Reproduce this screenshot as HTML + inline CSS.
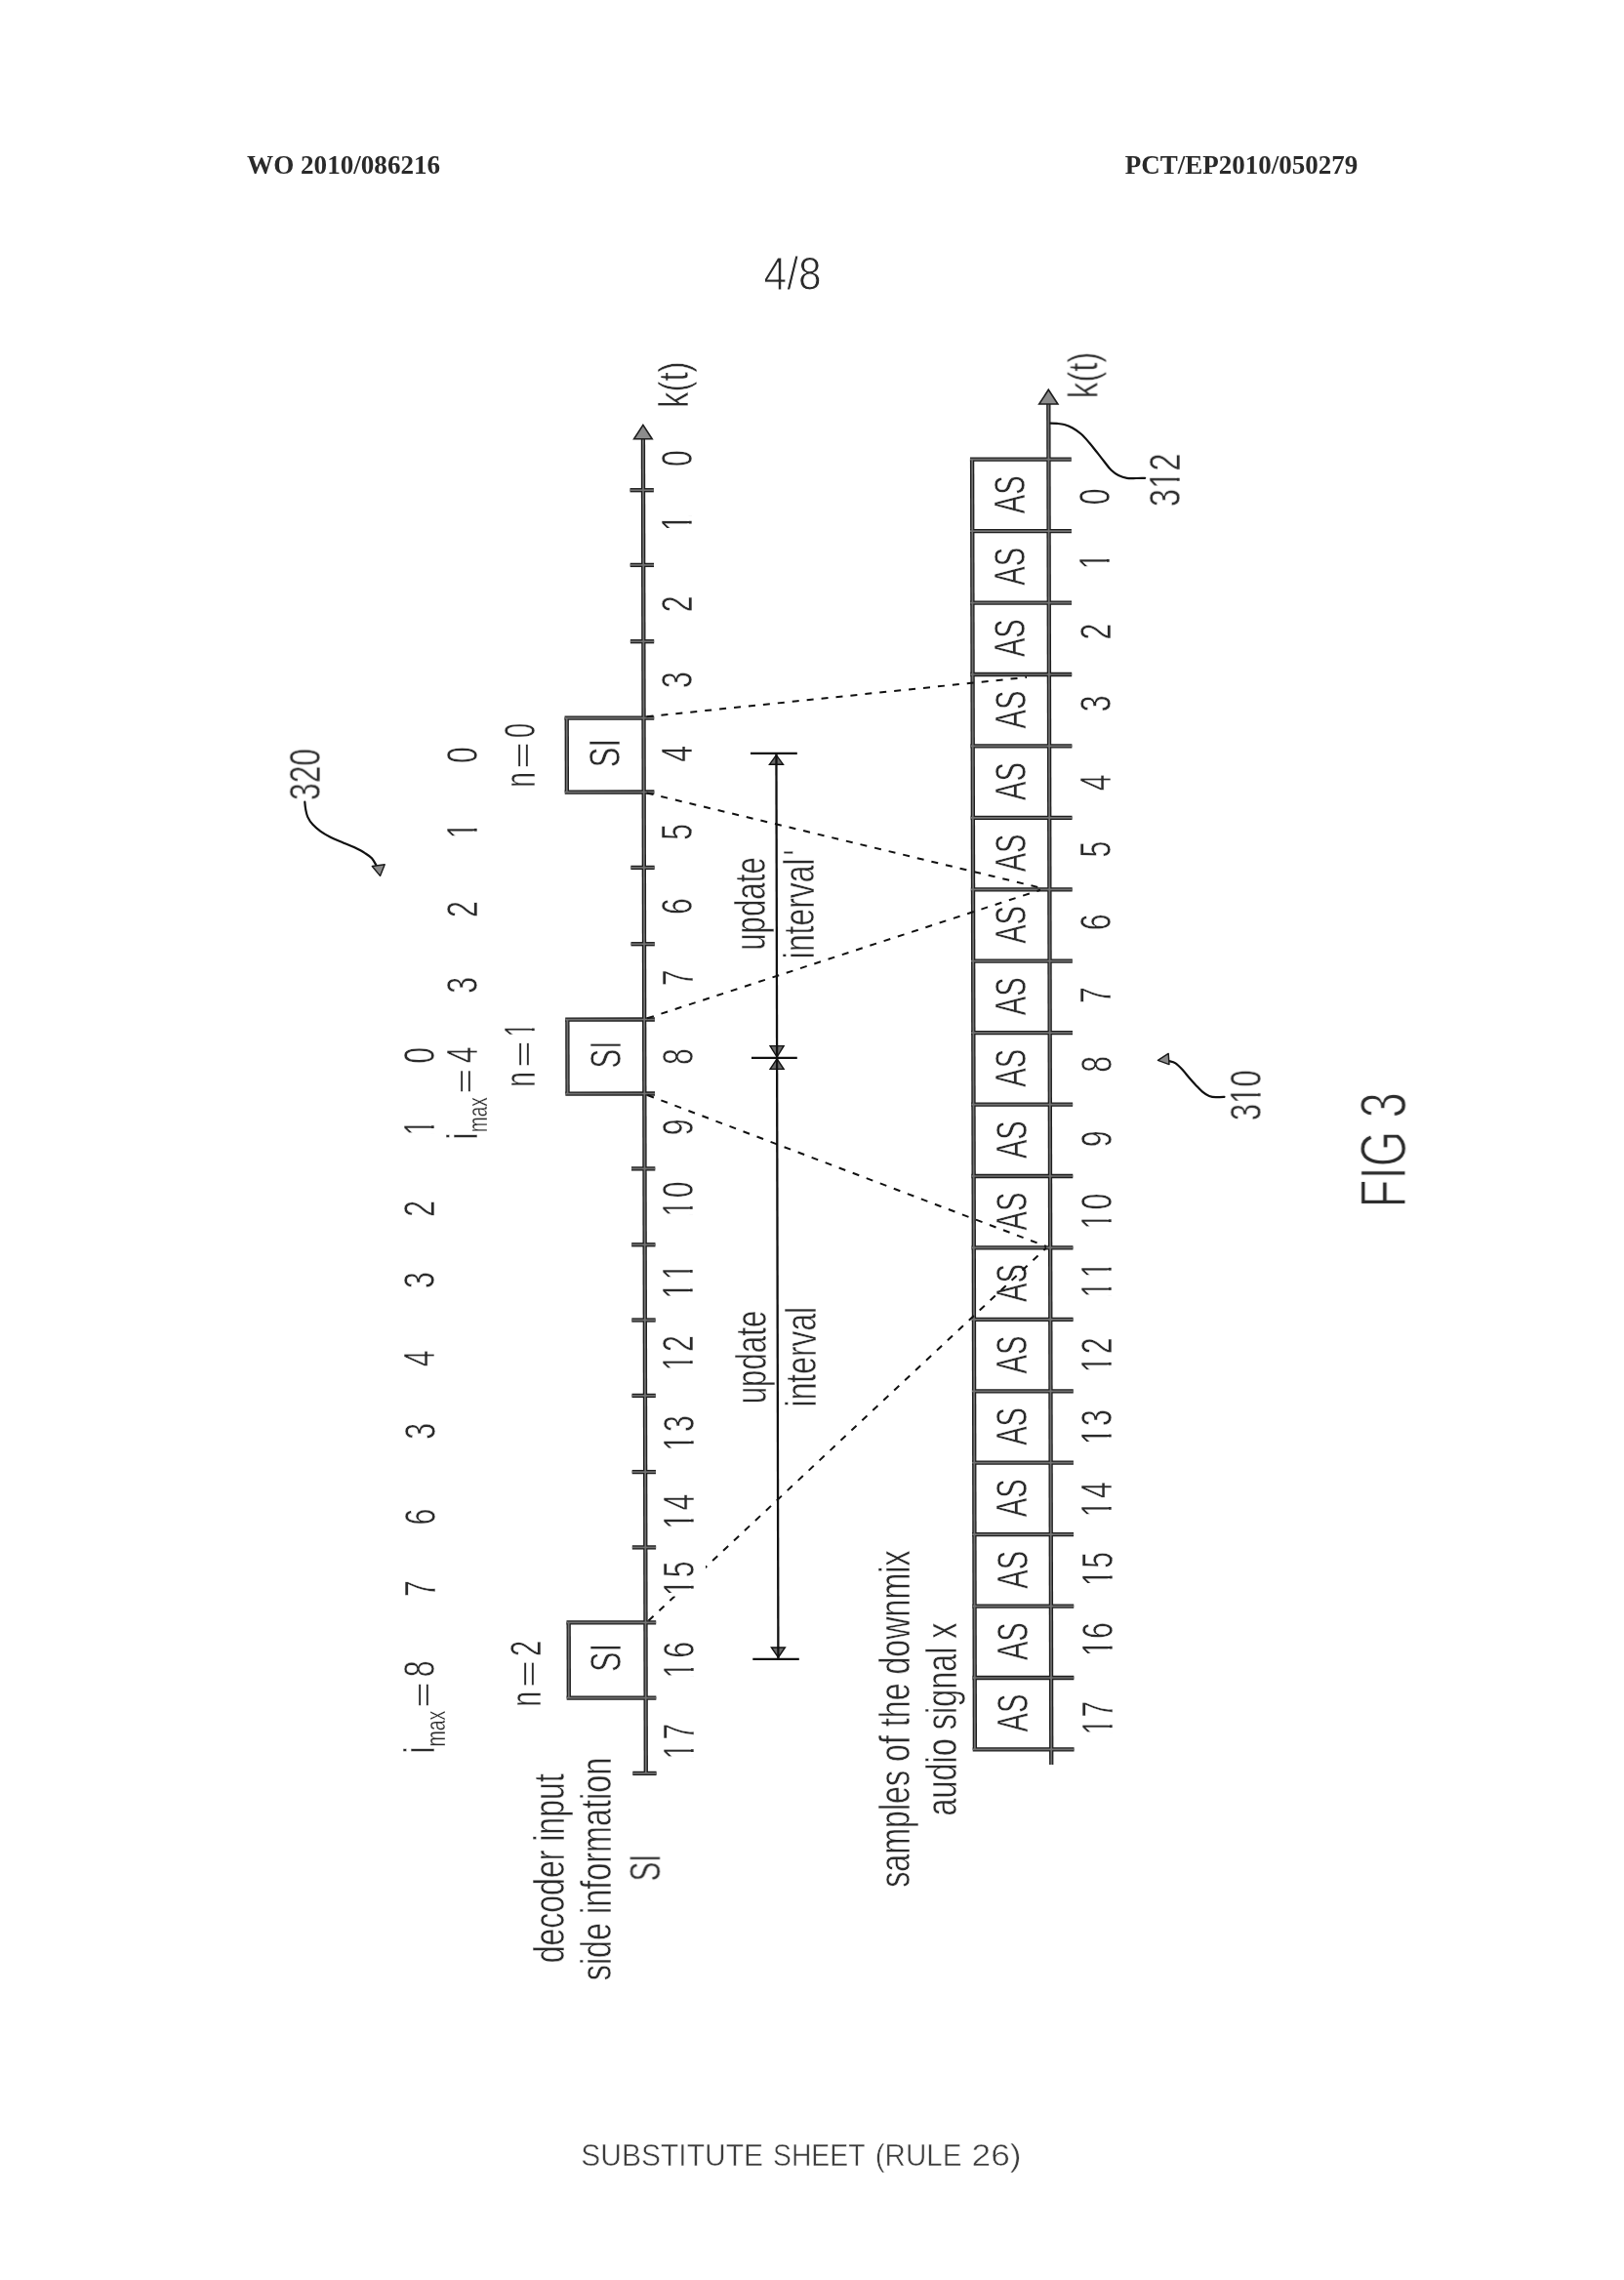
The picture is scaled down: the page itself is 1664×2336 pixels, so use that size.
<!DOCTYPE html>
<html><head><meta charset="utf-8"><title>FIG 3</title>
<style>html,body{margin:0;padding:0;background:#fff}svg{display:block}text{font-kerning:none}</style>
</head><body>
<svg width="1664" height="2336" viewBox="0 0 1664 2336">
<rect width="1664" height="2336" fill="#fff"/>
<g opacity="0.999">
<text transform="translate(253.10 177.70) scale(1.0044 1)" font-family="'Liberation Serif', serif" font-size="27" font-weight="bold" fill="#2a2a2a">WO 2010/086216</text>
<text transform="translate(1152.68 177.70) scale(1.0007 1)" font-family="'Liberation Serif', serif" font-size="27" font-weight="bold" fill="#2a2a2a">PCT/EP2010/050279</text>
<text transform="translate(782.54 296.80) scale(0.8674 1)" font-family="'Liberation Sans', sans-serif" font-size="49" font-weight="normal" fill="#2a2a2a" stroke="#fff" stroke-width="1.0">4/8</text>
<text transform="translate(595.26 2219.30) scale(0.9386 1)" font-family="'Liberation Sans', sans-serif" font-size="32" font-weight="normal" fill="#3c3c3c" stroke="#fff" stroke-width="0.5">SUBSTITUTE</text>
<text transform="translate(792.01 2219.30) scale(0.8855 1)" font-family="'Liberation Sans', sans-serif" font-size="32" font-weight="normal" fill="#3c3c3c" stroke="#fff" stroke-width="0.5">SHEET</text>
<text transform="translate(896.71 2219.30) scale(0.9252 1)" font-family="'Liberation Sans', sans-serif" font-size="32" font-weight="normal" fill="#3c3c3c" stroke="#fff" stroke-width="0.5">(RULE</text>
<text transform="translate(995.55 2219.30) scale(1.1022 1)" font-family="'Liberation Sans', sans-serif" font-size="32" font-weight="normal" fill="#3c3c3c" stroke="#fff" stroke-width="0.5">26)</text>
<g transform="translate(708.50 477.98) rotate(-90) scale(0.6850 1)"><text font-family="'Liberation Sans', sans-serif" font-size="44" font-weight="normal" fill="#2a2a2a" stroke="#fff" stroke-width="0.55">0</text></g>
<g transform="translate(708.64 544.07) rotate(-90) scale(0.6850 1)"><text font-family="'Liberation Sans', sans-serif" font-size="44" font-weight="normal" fill="#2a2a2a" stroke="#fff" stroke-width="0.55">1</text><rect x="2.42" y="-4.75" width="8.56" height="7.04" fill="#fff"/><rect x="15.03" y="-4.75" width="7.92" height="7.04" fill="#fff"/></g>
<g transform="translate(708.81 627.28) rotate(-90) scale(0.6850 1)"><text font-family="'Liberation Sans', sans-serif" font-size="44" font-weight="normal" fill="#2a2a2a" stroke="#fff" stroke-width="0.55">2</text></g>
<g transform="translate(708.98 704.94) rotate(-90) scale(0.6850 1)"><text font-family="'Liberation Sans', sans-serif" font-size="44" font-weight="normal" fill="#2a2a2a" stroke="#fff" stroke-width="0.55">3</text></g>
<g transform="translate(709.14 780.84) rotate(-90) scale(0.6850 1)"><text font-family="'Liberation Sans', sans-serif" font-size="44" font-weight="normal" fill="#2a2a2a" stroke="#fff" stroke-width="0.55">4</text></g>
<g transform="translate(709.30 860.74) rotate(-90) scale(0.6850 1)"><text font-family="'Liberation Sans', sans-serif" font-size="44" font-weight="normal" fill="#2a2a2a" stroke="#fff" stroke-width="0.55">5</text></g>
<g transform="translate(709.46 936.98) rotate(-90) scale(0.6850 1)"><text font-family="'Liberation Sans', sans-serif" font-size="44" font-weight="normal" fill="#2a2a2a" stroke="#fff" stroke-width="0.55">6</text></g>
<g transform="translate(709.62 1010.28) rotate(-90) scale(0.6850 1)"><text font-family="'Liberation Sans', sans-serif" font-size="44" font-weight="normal" fill="#2a2a2a" stroke="#fff" stroke-width="0.55">7</text></g>
<g transform="translate(709.79 1091.04) rotate(-90) scale(0.6850 1)"><text font-family="'Liberation Sans', sans-serif" font-size="44" font-weight="normal" fill="#2a2a2a" stroke="#fff" stroke-width="0.55">8</text></g>
<g transform="translate(709.94 1163.28) rotate(-90) scale(0.6850 1)"><text font-family="'Liberation Sans', sans-serif" font-size="44" font-weight="normal" fill="#2a2a2a" stroke="#fff" stroke-width="0.55">9</text></g>
<g transform="translate(710.09 1246.40) rotate(-90) scale(0.6850 1)"><text font-family="'Liberation Sans', sans-serif" font-size="44" font-weight="normal" letter-spacing="3.39" fill="#2a2a2a" stroke="#fff" stroke-width="0.55">10</text><rect x="2.42" y="-4.75" width="8.56" height="7.04" fill="#fff"/><rect x="15.03" y="-4.75" width="7.92" height="7.04" fill="#fff"/></g>
<g transform="translate(710.27 1330.80) rotate(-90) scale(0.6850 1)"><text font-family="'Liberation Sans', sans-serif" font-size="44" font-weight="normal" letter-spacing="3.94" fill="#2a2a2a" stroke="#fff" stroke-width="0.55">11</text><rect x="2.42" y="-4.75" width="8.56" height="7.04" fill="#fff"/><rect x="15.03" y="-4.75" width="7.92" height="7.04" fill="#fff"/><rect x="30.83" y="-4.75" width="8.56" height="7.04" fill="#fff"/><rect x="43.43" y="-4.75" width="7.92" height="7.04" fill="#fff"/></g>
<g transform="translate(710.42 1404.50) rotate(-90) scale(0.6850 1)"><text font-family="'Liberation Sans', sans-serif" font-size="44" font-weight="normal" letter-spacing="4.08" fill="#2a2a2a" stroke="#fff" stroke-width="0.55">12</text><rect x="2.42" y="-4.75" width="8.56" height="7.04" fill="#fff"/><rect x="15.03" y="-4.75" width="7.92" height="7.04" fill="#fff"/></g>
<g transform="translate(710.60 1486.70) rotate(-90) scale(0.6850 1)"><text font-family="'Liberation Sans', sans-serif" font-size="44" font-weight="normal" letter-spacing="4.23" fill="#2a2a2a" stroke="#fff" stroke-width="0.55">13</text><rect x="2.42" y="-4.75" width="8.56" height="7.04" fill="#fff"/><rect x="15.03" y="-4.75" width="7.92" height="7.04" fill="#fff"/></g>
<g transform="translate(710.76 1566.80) rotate(-90) scale(0.6850 1)"><text font-family="'Liberation Sans', sans-serif" font-size="44" font-weight="normal" letter-spacing="3.69" fill="#2a2a2a" stroke="#fff" stroke-width="0.55">14</text><rect x="2.42" y="-4.75" width="8.56" height="7.04" fill="#fff"/><rect x="15.03" y="-4.75" width="7.92" height="7.04" fill="#fff"/></g>
<g transform="translate(711.08 1719.40) rotate(-90) scale(0.6850 1)"><text font-family="'Liberation Sans', sans-serif" font-size="44" font-weight="normal" letter-spacing="5.54" fill="#2a2a2a" stroke="#fff" stroke-width="0.55">16</text><rect x="2.42" y="-4.75" width="8.56" height="7.04" fill="#fff"/><rect x="15.03" y="-4.75" width="7.92" height="7.04" fill="#fff"/></g>
<g transform="translate(711.26 1802.50) rotate(-90) scale(0.6850 1)"><text font-family="'Liberation Sans', sans-serif" font-size="44" font-weight="normal" letter-spacing="4.67" fill="#2a2a2a" stroke="#fff" stroke-width="0.55">17</text><rect x="2.42" y="-4.75" width="8.56" height="7.04" fill="#fff"/><rect x="15.03" y="-4.75" width="7.92" height="7.04" fill="#fff"/></g>
<g transform="translate(704.70 417.95) rotate(-90) scale(0.7826 1)"><text font-family="'Liberation Sans', sans-serif" font-size="42" font-weight="normal" fill="#2a2a2a" stroke="#fff" stroke-width="0.55">k(t)</text></g>
<g transform="translate(488.80 781.88) rotate(-90) scale(0.6850 1)"><text font-family="'Liberation Sans', sans-serif" font-size="44" font-weight="normal" fill="#2a2a2a" stroke="#fff" stroke-width="0.55">0</text></g>
<g transform="translate(488.97 859.17) rotate(-90) scale(0.6850 1)"><text font-family="'Liberation Sans', sans-serif" font-size="44" font-weight="normal" fill="#2a2a2a" stroke="#fff" stroke-width="0.55">1</text><rect x="2.42" y="-4.75" width="8.56" height="7.04" fill="#fff"/><rect x="15.03" y="-4.75" width="7.92" height="7.04" fill="#fff"/></g>
<g transform="translate(489.13 939.98) rotate(-90) scale(0.6850 1)"><text font-family="'Liberation Sans', sans-serif" font-size="44" font-weight="normal" fill="#2a2a2a" stroke="#fff" stroke-width="0.55">2</text></g>
<g transform="translate(489.30 1017.64) rotate(-90) scale(0.6850 1)"><text font-family="'Liberation Sans', sans-serif" font-size="44" font-weight="normal" fill="#2a2a2a" stroke="#fff" stroke-width="0.55">3</text></g>
<g transform="translate(488.90 1089.24) rotate(-90) scale(0.6850 1)"><text font-family="'Liberation Sans', sans-serif" font-size="44" font-weight="normal" fill="#2a2a2a" stroke="#fff" stroke-width="0.55">4</text></g>
<g transform="translate(486.90 1120.78) rotate(-90) scale(1.5310 1)"><text font-family="'Liberation Sans', sans-serif" font-size="29" font-weight="normal" fill="#2a2a2a" stroke="#fff" stroke-width="0.3">=</text></g>
<g transform="translate(499.10 1159.88) rotate(-90) scale(0.6995 1)"><text font-family="'Liberation Sans', sans-serif" font-size="27" font-weight="normal" fill="#2a2a2a" stroke="#fff" stroke-width="0.3">max</text></g>
<g transform="translate(488.90 1167.50) rotate(-90) scale(0.6850 1)"><text font-family="'Liberation Sans', sans-serif" font-size="44" font-weight="normal" fill="#2a2a2a" stroke="#fff" stroke-width="0.55">i</text></g>
<g transform="translate(444.70 1089.78) rotate(-90) scale(0.6850 1)"><text font-family="'Liberation Sans', sans-serif" font-size="44" font-weight="normal" fill="#2a2a2a" stroke="#fff" stroke-width="0.55">0</text></g>
<g transform="translate(444.86 1163.57) rotate(-90) scale(0.6850 1)"><text font-family="'Liberation Sans', sans-serif" font-size="44" font-weight="normal" fill="#2a2a2a" stroke="#fff" stroke-width="0.55">1</text><rect x="2.42" y="-4.75" width="8.56" height="7.04" fill="#fff"/><rect x="15.03" y="-4.75" width="7.92" height="7.04" fill="#fff"/></g>
<g transform="translate(445.03 1246.78) rotate(-90) scale(0.6850 1)"><text font-family="'Liberation Sans', sans-serif" font-size="44" font-weight="normal" fill="#2a2a2a" stroke="#fff" stroke-width="0.55">2</text></g>
<g transform="translate(445.18 1319.94) rotate(-90) scale(0.6850 1)"><text font-family="'Liberation Sans', sans-serif" font-size="44" font-weight="normal" fill="#2a2a2a" stroke="#fff" stroke-width="0.55">3</text></g>
<g transform="translate(445.35 1400.14) rotate(-90) scale(0.6850 1)"><text font-family="'Liberation Sans', sans-serif" font-size="44" font-weight="normal" fill="#2a2a2a" stroke="#fff" stroke-width="0.55">4</text></g>
<g transform="translate(445.51 1474.74) rotate(-90) scale(0.6850 1)"><text font-family="'Liberation Sans', sans-serif" font-size="44" font-weight="normal" fill="#2a2a2a" stroke="#fff" stroke-width="0.55">3</text></g>
<g transform="translate(445.69 1562.48) rotate(-90) scale(0.6850 1)"><text font-family="'Liberation Sans', sans-serif" font-size="44" font-weight="normal" fill="#2a2a2a" stroke="#fff" stroke-width="0.55">6</text></g>
<g transform="translate(445.85 1635.98) rotate(-90) scale(0.6850 1)"><text font-family="'Liberation Sans', sans-serif" font-size="44" font-weight="normal" fill="#2a2a2a" stroke="#fff" stroke-width="0.55">7</text></g>
<g transform="translate(445.00 1718.14) rotate(-90) scale(0.6850 1)"><text font-family="'Liberation Sans', sans-serif" font-size="44" font-weight="normal" fill="#2a2a2a" stroke="#fff" stroke-width="0.55">8</text></g>
<g transform="translate(443.60 1749.83) rotate(-90) scale(1.5655 1)"><text font-family="'Liberation Sans', sans-serif" font-size="29" font-weight="normal" fill="#2a2a2a" stroke="#fff" stroke-width="0.3">=</text></g>
<g transform="translate(456.00 1789.62) rotate(-90) scale(0.7238 1)"><text font-family="'Liberation Sans', sans-serif" font-size="27" font-weight="normal" fill="#2a2a2a" stroke="#fff" stroke-width="0.3">max</text></g>
<g transform="translate(445.00 1796.60) rotate(-90) scale(0.6850 1)"><text font-family="'Liberation Sans', sans-serif" font-size="44" font-weight="normal" fill="#2a2a2a" stroke="#fff" stroke-width="0.55">i</text></g>
<g transform="translate(547.90 806.76) rotate(-90) scale(0.6390 1)"><text font-family="'Liberation Sans', sans-serif" font-size="44" font-weight="normal" fill="#2a2a2a" stroke="#fff" stroke-width="0.55">n</text></g>
<g transform="translate(545.60 787.49) rotate(-90) scale(1.6138 1)"><text font-family="'Liberation Sans', sans-serif" font-size="29" font-weight="normal" fill="#2a2a2a" stroke="#fff" stroke-width="0.3">=</text></g>
<g transform="translate(547.90 755.94) rotate(-90) scale(0.6136 1)"><text font-family="'Liberation Sans', sans-serif" font-size="44" font-weight="normal" fill="#2a2a2a" stroke="#fff" stroke-width="0.55">0</text></g>
<g transform="translate(547.80 1113.66) rotate(-90) scale(0.6390 1)"><text font-family="'Liberation Sans', sans-serif" font-size="44" font-weight="normal" fill="#2a2a2a" stroke="#fff" stroke-width="0.55">n</text></g>
<g transform="translate(546.50 1093.79) rotate(-90) scale(1.6138 1)"><text font-family="'Liberation Sans', sans-serif" font-size="29" font-weight="normal" fill="#2a2a2a" stroke="#fff" stroke-width="0.3">=</text></g>
<g transform="translate(547.80 1062.56) rotate(-90) scale(0.6000 1)"><text font-family="'Liberation Sans', sans-serif" font-size="44" font-weight="normal" fill="#2a2a2a" stroke="#fff" stroke-width="0.55">1</text><rect x="2.42" y="-4.75" width="8.56" height="7.04" fill="#fff"/><rect x="15.03" y="-4.75" width="7.92" height="7.04" fill="#fff"/></g>
<g transform="translate(553.70 1748.46) rotate(-90) scale(0.6390 1)"><text font-family="'Liberation Sans', sans-serif" font-size="44" font-weight="normal" fill="#2a2a2a" stroke="#fff" stroke-width="0.55">n</text></g>
<g transform="translate(552.30 1729.05) rotate(-90) scale(1.6552 1)"><text font-family="'Liberation Sans', sans-serif" font-size="29" font-weight="normal" fill="#2a2a2a" stroke="#fff" stroke-width="0.3">=</text></g>
<g transform="translate(553.70 1696.96) rotate(-90) scale(0.6594 1)"><text font-family="'Liberation Sans', sans-serif" font-size="44" font-weight="normal" fill="#2a2a2a" stroke="#fff" stroke-width="0.55">2</text></g>
<g transform="translate(634.90 786.16) rotate(-90) scale(0.7012 1)"><text font-family="'Liberation Sans', sans-serif" font-size="44" font-weight="normal" fill="#2a2a2a" stroke="#fff" stroke-width="0.55">SI</text></g>
<g transform="translate(635.90 1094.52) rotate(-90) scale(0.6709 1)"><text font-family="'Liberation Sans', sans-serif" font-size="44" font-weight="normal" fill="#2a2a2a" stroke="#fff" stroke-width="0.55">SI</text></g>
<g transform="translate(636.40 1712.65) rotate(-90) scale(0.6874 1)"><text font-family="'Liberation Sans', sans-serif" font-size="44" font-weight="normal" fill="#2a2a2a" stroke="#fff" stroke-width="0.55">SI</text></g>
<g transform="translate(327.80 819.99) rotate(-90) scale(0.7231 1)"><text font-family="'Liberation Sans', sans-serif" font-size="44" font-weight="normal" fill="#2a2a2a" stroke="#fff" stroke-width="0.55">320</text></g>
<g transform="translate(784.10 973.75) rotate(-90) scale(0.7098 1)"><text font-family="'Liberation Sans', sans-serif" font-size="44" font-weight="normal" fill="#2a2a2a" stroke="#fff" stroke-width="0.55">update</text></g>
<g transform="translate(834.00 982.19) rotate(-90) scale(0.7247 1)"><text font-family="'Liberation Sans', sans-serif" font-size="44" font-weight="normal" fill="#2a2a2a" stroke="#fff" stroke-width="0.55">interval</text></g>
<g transform="translate(834.00 876.23) rotate(-90) scale(0.6850 1)"><text font-family="'Liberation Sans', sans-serif" font-size="44" font-weight="normal" fill="#2a2a2a" stroke="#fff" stroke-width="0.55">'</text></g>
<g transform="translate(784.70 1438.25) rotate(-90) scale(0.7098 1)"><text font-family="'Liberation Sans', sans-serif" font-size="44" font-weight="normal" fill="#2a2a2a" stroke="#fff" stroke-width="0.55">update</text></g>
<g transform="translate(835.80 1441.39) rotate(-90) scale(0.7233 1)"><text font-family="'Liberation Sans', sans-serif" font-size="44" font-weight="normal" fill="#2a2a2a" stroke="#fff" stroke-width="0.55">interval</text></g>
<g transform="translate(577.80 2011.30) rotate(-90) scale(0.7275 1)"><text font-family="'Liberation Sans', sans-serif" font-size="44" font-weight="normal" fill="#2a2a2a" stroke="#fff" stroke-width="0.55">decoder input</text></g>
<g transform="translate(625.60 2029.31) rotate(-90) scale(0.7361 1)"><text font-family="'Liberation Sans', sans-serif" font-size="44" font-weight="normal" fill="#2a2a2a" stroke="#fff" stroke-width="0.55">side information</text></g>
<g transform="translate(676.40 1927.52) rotate(-90) scale(0.6709 1)"><text font-family="'Liberation Sans', sans-serif" font-size="44" font-weight="normal" fill="#2a2a2a" stroke="#fff" stroke-width="0.55">SI</text></g>
<g transform="translate(931.60 1933.80) rotate(-90) scale(0.7316 1)"><text font-family="'Liberation Sans', sans-serif" font-size="44" font-weight="normal" fill="#2a2a2a" stroke="#fff" stroke-width="0.55">samples of the downmix</text></g>
<g transform="translate(980.00 1860.41) rotate(-90) scale(0.7359 1)"><text font-family="'Liberation Sans', sans-serif" font-size="44" font-weight="normal" fill="#2a2a2a" stroke="#fff" stroke-width="0.55">audio signal x</text></g>
<g transform="translate(1050.19 526.21) rotate(-90) scale(0.6614 1)"><text font-family="'Liberation Sans', sans-serif" font-size="44" font-weight="normal" fill="#2a2a2a" stroke="#fff" stroke-width="0.55">AS</text></g>
<g transform="translate(1137.32 517.18) rotate(-90) scale(0.6850 1)"><text font-family="'Liberation Sans', sans-serif" font-size="44" font-weight="normal" fill="#2a2a2a" stroke="#fff" stroke-width="0.55">0</text></g>
<g transform="translate(1050.34 599.64) rotate(-90) scale(0.6614 1)"><text font-family="'Liberation Sans', sans-serif" font-size="44" font-weight="normal" fill="#2a2a2a" stroke="#fff" stroke-width="0.55">AS</text></g>
<g transform="translate(1137.46 583.27) rotate(-90) scale(0.6850 1)"><text font-family="'Liberation Sans', sans-serif" font-size="44" font-weight="normal" fill="#2a2a2a" stroke="#fff" stroke-width="0.55">1</text><rect x="2.42" y="-4.75" width="8.56" height="7.04" fill="#fff"/><rect x="15.03" y="-4.75" width="7.92" height="7.04" fill="#fff"/></g>
<g transform="translate(1050.49 673.07) rotate(-90) scale(0.6614 1)"><text font-family="'Liberation Sans', sans-serif" font-size="44" font-weight="normal" fill="#2a2a2a" stroke="#fff" stroke-width="0.55">AS</text></g>
<g transform="translate(1137.61 655.38) rotate(-90) scale(0.6850 1)"><text font-family="'Liberation Sans', sans-serif" font-size="44" font-weight="normal" fill="#2a2a2a" stroke="#fff" stroke-width="0.55">2</text></g>
<g transform="translate(1050.65 746.50) rotate(-90) scale(0.6614 1)"><text font-family="'Liberation Sans', sans-serif" font-size="44" font-weight="normal" fill="#2a2a2a" stroke="#fff" stroke-width="0.55">AS</text></g>
<g transform="translate(1137.76 729.24) rotate(-90) scale(0.6850 1)"><text font-family="'Liberation Sans', sans-serif" font-size="44" font-weight="normal" fill="#2a2a2a" stroke="#fff" stroke-width="0.55">3</text></g>
<g transform="translate(1050.80 819.93) rotate(-90) scale(0.6614 1)"><text font-family="'Liberation Sans', sans-serif" font-size="44" font-weight="normal" fill="#2a2a2a" stroke="#fff" stroke-width="0.55">AS</text></g>
<g transform="translate(1137.93 810.24) rotate(-90) scale(0.6850 1)"><text font-family="'Liberation Sans', sans-serif" font-size="44" font-weight="normal" fill="#2a2a2a" stroke="#fff" stroke-width="0.55">4</text></g>
<g transform="translate(1050.96 893.37) rotate(-90) scale(0.6614 1)"><text font-family="'Liberation Sans', sans-serif" font-size="44" font-weight="normal" fill="#2a2a2a" stroke="#fff" stroke-width="0.55">AS</text></g>
<g transform="translate(1138.08 878.44) rotate(-90) scale(0.6850 1)"><text font-family="'Liberation Sans', sans-serif" font-size="44" font-weight="normal" fill="#2a2a2a" stroke="#fff" stroke-width="0.55">5</text></g>
<g transform="translate(1051.11 966.79) rotate(-90) scale(0.6614 1)"><text font-family="'Liberation Sans', sans-serif" font-size="44" font-weight="normal" fill="#2a2a2a" stroke="#fff" stroke-width="0.55">AS</text></g>
<g transform="translate(1138.23 953.18) rotate(-90) scale(0.6850 1)"><text font-family="'Liberation Sans', sans-serif" font-size="44" font-weight="normal" fill="#2a2a2a" stroke="#fff" stroke-width="0.55">6</text></g>
<g transform="translate(1051.26 1040.23) rotate(-90) scale(0.6614 1)"><text font-family="'Liberation Sans', sans-serif" font-size="44" font-weight="normal" fill="#2a2a2a" stroke="#fff" stroke-width="0.55">AS</text></g>
<g transform="translate(1138.39 1027.98) rotate(-90) scale(0.6850 1)"><text font-family="'Liberation Sans', sans-serif" font-size="44" font-weight="normal" fill="#2a2a2a" stroke="#fff" stroke-width="0.55">7</text></g>
<g transform="translate(1051.42 1113.65) rotate(-90) scale(0.6614 1)"><text font-family="'Liberation Sans', sans-serif" font-size="44" font-weight="normal" fill="#2a2a2a" stroke="#fff" stroke-width="0.55">AS</text></g>
<g transform="translate(1138.54 1098.74) rotate(-90) scale(0.6850 1)"><text font-family="'Liberation Sans', sans-serif" font-size="44" font-weight="normal" fill="#2a2a2a" stroke="#fff" stroke-width="0.55">8</text></g>
<g transform="translate(1051.57 1187.09) rotate(-90) scale(0.6614 1)"><text font-family="'Liberation Sans', sans-serif" font-size="44" font-weight="normal" fill="#2a2a2a" stroke="#fff" stroke-width="0.55">AS</text></g>
<g transform="translate(1138.70 1175.28) rotate(-90) scale(0.6850 1)"><text font-family="'Liberation Sans', sans-serif" font-size="44" font-weight="normal" fill="#2a2a2a" stroke="#fff" stroke-width="0.55">9</text></g>
<g transform="translate(1051.73 1260.52) rotate(-90) scale(0.6614 1)"><text font-family="'Liberation Sans', sans-serif" font-size="44" font-weight="normal" fill="#2a2a2a" stroke="#fff" stroke-width="0.55">AS</text></g>
<g transform="translate(1138.85 1259.60) rotate(-90) scale(0.6850 1)"><text font-family="'Liberation Sans', sans-serif" font-size="44" font-weight="normal" letter-spacing="4.71" fill="#2a2a2a" stroke="#fff" stroke-width="0.55">10</text><rect x="2.42" y="-4.75" width="8.56" height="7.04" fill="#fff"/><rect x="15.03" y="-4.75" width="7.92" height="7.04" fill="#fff"/></g>
<g transform="translate(1051.88 1333.94) rotate(-90) scale(0.6614 1)"><text font-family="'Liberation Sans', sans-serif" font-size="44" font-weight="normal" fill="#2a2a2a" stroke="#fff" stroke-width="0.55">AS</text></g>
<g transform="translate(1139.01 1329.40) rotate(-90) scale(0.6850 1)"><text font-family="'Liberation Sans', sans-serif" font-size="44" font-weight="normal" letter-spacing="5.10" fill="#2a2a2a" stroke="#fff" stroke-width="0.55">11</text><rect x="2.42" y="-4.75" width="8.56" height="7.04" fill="#fff"/><rect x="15.03" y="-4.75" width="7.92" height="7.04" fill="#fff"/><rect x="31.99" y="-4.75" width="8.56" height="7.04" fill="#fff"/><rect x="44.60" y="-4.75" width="7.92" height="7.04" fill="#fff"/></g>
<g transform="translate(1052.04 1407.38) rotate(-90) scale(0.6614 1)"><text font-family="'Liberation Sans', sans-serif" font-size="44" font-weight="normal" fill="#2a2a2a" stroke="#fff" stroke-width="0.55">AS</text></g>
<g transform="translate(1139.16 1406.20) rotate(-90) scale(0.6850 1)"><text font-family="'Liberation Sans', sans-serif" font-size="44" font-weight="normal" letter-spacing="3.06" fill="#2a2a2a" stroke="#fff" stroke-width="0.55">12</text><rect x="2.42" y="-4.75" width="8.56" height="7.04" fill="#fff"/><rect x="15.03" y="-4.75" width="7.92" height="7.04" fill="#fff"/></g>
<g transform="translate(1052.19 1480.81) rotate(-90) scale(0.6614 1)"><text font-family="'Liberation Sans', sans-serif" font-size="44" font-weight="normal" fill="#2a2a2a" stroke="#fff" stroke-width="0.55">AS</text></g>
<g transform="translate(1139.32 1479.90) rotate(-90) scale(0.6850 1)"><text font-family="'Liberation Sans', sans-serif" font-size="44" font-weight="normal" letter-spacing="3.06" fill="#2a2a2a" stroke="#fff" stroke-width="0.55">13</text><rect x="2.42" y="-4.75" width="8.56" height="7.04" fill="#fff"/><rect x="15.03" y="-4.75" width="7.92" height="7.04" fill="#fff"/></g>
<g transform="translate(1052.34 1554.23) rotate(-90) scale(0.6614 1)"><text font-family="'Liberation Sans', sans-serif" font-size="44" font-weight="normal" fill="#2a2a2a" stroke="#fff" stroke-width="0.55">AS</text></g>
<g transform="translate(1139.47 1554.30) rotate(-90) scale(0.6850 1)"><text font-family="'Liberation Sans', sans-serif" font-size="44" font-weight="normal" letter-spacing="3.54" fill="#2a2a2a" stroke="#fff" stroke-width="0.55">14</text><rect x="2.42" y="-4.75" width="8.56" height="7.04" fill="#fff"/><rect x="15.03" y="-4.75" width="7.92" height="7.04" fill="#fff"/></g>
<g transform="translate(1052.50 1627.67) rotate(-90) scale(0.6614 1)"><text font-family="'Liberation Sans', sans-serif" font-size="44" font-weight="normal" fill="#2a2a2a" stroke="#fff" stroke-width="0.55">AS</text></g>
<g transform="translate(1139.62 1624.90) rotate(-90) scale(0.6850 1)"><text font-family="'Liberation Sans', sans-serif" font-size="44" font-weight="normal" letter-spacing="1.89" fill="#2a2a2a" stroke="#fff" stroke-width="0.55">15</text><rect x="2.42" y="-4.75" width="8.56" height="7.04" fill="#fff"/><rect x="15.03" y="-4.75" width="7.92" height="7.04" fill="#fff"/></g>
<g transform="translate(1052.65 1701.10) rotate(-90) scale(0.6614 1)"><text font-family="'Liberation Sans', sans-serif" font-size="44" font-weight="normal" fill="#2a2a2a" stroke="#fff" stroke-width="0.55">AS</text></g>
<g transform="translate(1139.78 1697.00) rotate(-90) scale(0.6850 1)"><text font-family="'Liberation Sans', sans-serif" font-size="44" font-weight="normal" letter-spacing="1.89" fill="#2a2a2a" stroke="#fff" stroke-width="0.55">16</text><rect x="2.42" y="-4.75" width="8.56" height="7.04" fill="#fff"/><rect x="15.03" y="-4.75" width="7.92" height="7.04" fill="#fff"/></g>
<g transform="translate(1052.81 1774.53) rotate(-90) scale(0.6614 1)"><text font-family="'Liberation Sans', sans-serif" font-size="44" font-weight="normal" fill="#2a2a2a" stroke="#fff" stroke-width="0.55">AS</text></g>
<g transform="translate(1139.94 1777.60) rotate(-90) scale(0.6850 1)"><text font-family="'Liberation Sans', sans-serif" font-size="44" font-weight="normal" letter-spacing="1.89" fill="#2a2a2a" stroke="#fff" stroke-width="0.55">17</text><rect x="2.42" y="-4.75" width="8.56" height="7.04" fill="#fff"/><rect x="15.03" y="-4.75" width="7.92" height="7.04" fill="#fff"/></g>
<g transform="translate(1124.50 408.05) rotate(-90) scale(0.7826 1)"><text font-family="'Liberation Sans', sans-serif" font-size="42" font-weight="normal" fill="#2a2a2a" stroke="#fff" stroke-width="0.55">k(t)</text></g>
<g transform="translate(1208.90 519.12) rotate(-90) scale(0.7444 1)"><text font-family="'Liberation Sans', sans-serif" font-size="44" font-weight="normal" fill="#2a2a2a" stroke="#fff" stroke-width="0.55">312</text><rect x="26.89" y="-4.75" width="8.56" height="7.04" fill="#fff"/><rect x="39.50" y="-4.75" width="7.92" height="7.04" fill="#fff"/></g>
<g transform="translate(1291.80 1148.17) rotate(-90) scale(0.7076 1)"><text font-family="'Liberation Sans', sans-serif" font-size="44" font-weight="normal" fill="#2a2a2a" stroke="#fff" stroke-width="0.55">310</text><rect x="26.89" y="-4.75" width="8.56" height="7.04" fill="#fff"/><rect x="39.50" y="-4.75" width="7.92" height="7.04" fill="#fff"/></g>
<g transform="translate(1440.30 1237.50) rotate(-90) scale(0.7182 1)"><text font-family="'Liberation Sans', sans-serif" font-size="66" font-weight="normal" fill="#2a2a2a" stroke="#fff" stroke-width="1.5">FIG 3</text></g>
</g>

<g stroke="#1e1e1e" stroke-width="4.3" stroke-linecap="butt">
<line x1="658.93" y1="448.00" x2="661.80" y2="1816.90"/>
<line x1="645.54" y1="502.20" x2="669.84" y2="502.20"/>
<line x1="645.70" y1="578.90" x2="670.00" y2="578.90"/>
<line x1="645.87" y1="657.20" x2="670.17" y2="657.20"/>
<line x1="578.57" y1="735.68" x2="670.23" y2="735.58"/>
<line x1="578.73" y1="811.58" x2="670.39" y2="811.48"/>
<line x1="646.35" y1="888.90" x2="670.65" y2="888.90"/>
<line x1="646.52" y1="967.20" x2="670.82" y2="967.20"/>
<line x1="579.22" y1="1044.58" x2="670.88" y2="1044.48"/>
<line x1="579.38" y1="1120.58" x2="671.04" y2="1120.48"/>
<line x1="647.00" y1="1197.40" x2="671.30" y2="1197.40"/>
<line x1="647.17" y1="1275.30" x2="671.47" y2="1275.30"/>
<line x1="647.33" y1="1352.50" x2="671.63" y2="1352.50"/>
<line x1="647.49" y1="1429.90" x2="671.79" y2="1429.90"/>
<line x1="647.65" y1="1508.10" x2="671.95" y2="1508.10"/>
<line x1="647.82" y1="1585.40" x2="672.12" y2="1585.40"/>
<line x1="580.52" y1="1662.38" x2="672.18" y2="1662.28"/>
<line x1="580.68" y1="1739.68" x2="672.34" y2="1739.58"/>
<line x1="648.30" y1="1816.90" x2="672.60" y2="1816.90"/>
<line x1="580.72" y1="735.60" x2="580.88" y2="811.50"/>
<line x1="581.37" y1="1044.50" x2="581.53" y2="1120.50"/>
<line x1="582.67" y1="1662.30" x2="582.83" y2="1739.60"/>
<line x1="1074.33" y1="412.00" x2="1077.26" y2="1808.00"/>
<line x1="996.10" y1="470.70" x2="998.88" y2="1792.44"/>
<line x1="993.95" y1="470.70" x2="1097.75" y2="470.70"/>
<line x1="994.11" y1="544.13" x2="1097.91" y2="544.13"/>
<line x1="994.26" y1="617.56" x2="1098.06" y2="617.56"/>
<line x1="994.41" y1="690.99" x2="1098.21" y2="690.99"/>
<line x1="994.57" y1="764.42" x2="1098.37" y2="764.42"/>
<line x1="994.72" y1="837.85" x2="1098.52" y2="837.85"/>
<line x1="994.88" y1="911.28" x2="1098.68" y2="911.28"/>
<line x1="995.03" y1="984.71" x2="1098.83" y2="984.71"/>
<line x1="995.19" y1="1058.14" x2="1098.99" y2="1058.14"/>
<line x1="995.34" y1="1131.57" x2="1099.14" y2="1131.57"/>
<line x1="995.49" y1="1205.00" x2="1099.29" y2="1205.00"/>
<line x1="995.65" y1="1278.43" x2="1099.45" y2="1278.43"/>
<line x1="995.80" y1="1351.86" x2="1099.60" y2="1351.86"/>
<line x1="995.96" y1="1425.29" x2="1099.76" y2="1425.29"/>
<line x1="996.11" y1="1498.72" x2="1099.91" y2="1498.72"/>
<line x1="996.26" y1="1572.15" x2="1100.07" y2="1572.15"/>
<line x1="996.42" y1="1645.58" x2="1100.22" y2="1645.58"/>
<line x1="996.57" y1="1719.01" x2="1100.37" y2="1719.01"/>
<line x1="996.73" y1="1792.44" x2="1100.53" y2="1792.44"/>
</g>
<g stroke="#727272" stroke-width="1.7" stroke-linecap="butt">
<line x1="658.93" y1="448.00" x2="661.80" y2="1816.90"/>
<line x1="645.54" y1="502.20" x2="669.84" y2="502.20"/>
<line x1="645.70" y1="578.90" x2="670.00" y2="578.90"/>
<line x1="645.87" y1="657.20" x2="670.17" y2="657.20"/>
<line x1="578.57" y1="735.68" x2="670.23" y2="735.58"/>
<line x1="578.73" y1="811.58" x2="670.39" y2="811.48"/>
<line x1="646.35" y1="888.90" x2="670.65" y2="888.90"/>
<line x1="646.52" y1="967.20" x2="670.82" y2="967.20"/>
<line x1="579.22" y1="1044.58" x2="670.88" y2="1044.48"/>
<line x1="579.38" y1="1120.58" x2="671.04" y2="1120.48"/>
<line x1="647.00" y1="1197.40" x2="671.30" y2="1197.40"/>
<line x1="647.17" y1="1275.30" x2="671.47" y2="1275.30"/>
<line x1="647.33" y1="1352.50" x2="671.63" y2="1352.50"/>
<line x1="647.49" y1="1429.90" x2="671.79" y2="1429.90"/>
<line x1="647.65" y1="1508.10" x2="671.95" y2="1508.10"/>
<line x1="647.82" y1="1585.40" x2="672.12" y2="1585.40"/>
<line x1="580.52" y1="1662.38" x2="672.18" y2="1662.28"/>
<line x1="580.68" y1="1739.68" x2="672.34" y2="1739.58"/>
<line x1="648.30" y1="1816.90" x2="672.60" y2="1816.90"/>
<line x1="580.72" y1="735.60" x2="580.88" y2="811.50"/>
<line x1="581.37" y1="1044.50" x2="581.53" y2="1120.50"/>
<line x1="582.67" y1="1662.30" x2="582.83" y2="1739.60"/>
<line x1="1074.33" y1="412.00" x2="1077.26" y2="1808.00"/>
<line x1="996.10" y1="470.70" x2="998.88" y2="1792.44"/>
<line x1="993.95" y1="470.70" x2="1097.75" y2="470.70"/>
<line x1="994.11" y1="544.13" x2="1097.91" y2="544.13"/>
<line x1="994.26" y1="617.56" x2="1098.06" y2="617.56"/>
<line x1="994.41" y1="690.99" x2="1098.21" y2="690.99"/>
<line x1="994.57" y1="764.42" x2="1098.37" y2="764.42"/>
<line x1="994.72" y1="837.85" x2="1098.52" y2="837.85"/>
<line x1="994.88" y1="911.28" x2="1098.68" y2="911.28"/>
<line x1="995.03" y1="984.71" x2="1098.83" y2="984.71"/>
<line x1="995.19" y1="1058.14" x2="1098.99" y2="1058.14"/>
<line x1="995.34" y1="1131.57" x2="1099.14" y2="1131.57"/>
<line x1="995.49" y1="1205.00" x2="1099.29" y2="1205.00"/>
<line x1="995.65" y1="1278.43" x2="1099.45" y2="1278.43"/>
<line x1="995.80" y1="1351.86" x2="1099.60" y2="1351.86"/>
<line x1="995.96" y1="1425.29" x2="1099.76" y2="1425.29"/>
<line x1="996.11" y1="1498.72" x2="1099.91" y2="1498.72"/>
<line x1="996.26" y1="1572.15" x2="1100.07" y2="1572.15"/>
<line x1="996.42" y1="1645.58" x2="1100.22" y2="1645.58"/>
<line x1="996.57" y1="1719.01" x2="1100.37" y2="1719.01"/>
<line x1="996.73" y1="1792.44" x2="1100.53" y2="1792.44"/>
</g>
<polygon points="658.90,435.40 649.60,449.80 668.20,449.80" fill="#8c8c8c" stroke="#1e1e1e" stroke-width="1.6" stroke-linejoin="miter"/><polygon points="1074.30,399.30 1064.70,414.00 1083.90,414.00" fill="#8c8c8c" stroke="#1e1e1e" stroke-width="1.6" stroke-linejoin="miter"/><polygon points="795.45,773.60 788.45,783.20 802.45,783.20" fill="#6a6a6a" stroke="#111" stroke-width="1.4" stroke-linejoin="miter"/><polygon points="796.10,1083.00 789.10,1071.60 803.10,1071.60" fill="#6a6a6a" stroke="#111" stroke-width="1.4" stroke-linejoin="miter"/><polygon points="796.10,1084.80 789.10,1095.40 803.10,1095.40" fill="#6a6a6a" stroke="#111" stroke-width="1.4" stroke-linejoin="miter"/><polygon points="797.40,1698.20 790.40,1688.00 804.40,1688.00" fill="#6a6a6a" stroke="#111" stroke-width="1.4" stroke-linejoin="miter"/>
<g stroke="#111" stroke-width="2.3" fill="none"><line x1="795.45" y1="771.9" x2="797.40" y2="1699.9"/><line x1="769.0" y1="771.93" x2="816.8" y2="771.87"/><line x1="770.0" y1="1083.93" x2="816.8" y2="1083.87"/><line x1="771.3" y1="1699.93" x2="818.8" y2="1699.87"/></g>
<g stroke="#111" stroke-width="2.0" stroke-dasharray="7 8" fill="none"><line x1="662.53" y1="734.30" x2="1052.00" y2="693.90"/><line x1="662.69" y1="812.50" x2="1068.00" y2="910.00"/><line x1="663.18" y1="1043.30" x2="1066.00" y2="911.80"/><line x1="663.34" y1="1122.00" x2="1072.00" y2="1277.00"/><line x1="664.48" y1="1660.50" x2="1072.00" y2="1278.50"/></g>
<g opacity="0.999"><rect x="676" y="1597.5" width="47" height="38" fill="#fff"/><g transform="translate(710.91 1635.10) rotate(-90) scale(0.6850 1)"><text font-family="'Liberation Sans', sans-serif" font-size="44" font-weight="normal" letter-spacing="3.06" fill="#2a2a2a" stroke="#fff" stroke-width="0.55">15</text><rect x="2.42" y="-4.75" width="8.56" height="7.04" fill="#fff"/><rect x="15.03" y="-4.75" width="7.92" height="7.04" fill="#fff"/></g></g>
<g stroke="#111" stroke-width="2.2" fill="none" stroke-linecap="round"><path d="M312.3,821.6 C312.4,822.9 312.7,826.7 313.2,829.3 C313.7,831.9 314.1,834.5 315.3,837.1 C316.5,839.7 318.3,842.4 320.5,844.8 C322.7,847.2 325.3,849.5 328.3,851.7 C331.3,853.9 334.9,855.9 338.6,857.8 C342.3,859.7 346.7,861.2 350.7,862.9 C354.7,864.6 358.9,866.2 362.8,868.1 C366.7,870.0 371.0,872.2 374.0,874.1 C377.0,876.0 379.0,877.2 380.9,879.3 C382.8,881.4 384.7,885.3 385.5,886.5"/><path d="M1254.5,1123.8 C1253.1,1123.9 1248.5,1124.3 1245.9,1124.2 C1243.3,1124.1 1241.3,1123.8 1239.0,1122.9 C1236.7,1122.0 1234.4,1120.5 1232.1,1118.6 C1229.8,1116.7 1227.5,1114.1 1225.2,1111.7 C1222.9,1109.3 1220.6,1106.7 1218.3,1104.0 C1216.0,1101.3 1213.7,1098.2 1211.4,1095.8 C1209.1,1093.3 1206.8,1090.8 1204.5,1089.3 C1202.2,1087.8 1198.7,1087.4 1197.5,1087.0"/><path d="M1076.5,433.7 C1077.6,433.7 1080.7,433.7 1083.0,433.9 C1085.3,434.1 1087.9,434.2 1090.6,435.0 C1093.3,435.8 1096.1,436.9 1099.0,438.5 C1101.9,440.1 1105.1,442.3 1107.9,444.8 C1110.7,447.3 1113.3,450.4 1116.0,453.5 C1118.7,456.6 1121.3,460.1 1123.9,463.3 C1126.5,466.6 1129.0,469.9 1131.5,473.0 C1134.0,476.1 1136.3,479.5 1138.7,481.8 C1141.1,484.1 1143.3,485.7 1146.0,487.0 C1148.7,488.3 1151.7,489.3 1154.7,489.8 C1157.7,490.3 1160.9,490.0 1164.0,490.0 C1167.1,490.0 1171.7,489.8 1173.2,489.8"/></g>
<polygon points="389.5,897.4 381.3,887.5 394.2,885.8" fill="#8a8a8a" stroke="#1a1a1a" stroke-width="1.4" stroke-linejoin="round"/>
<polygon points="1186.4,1086.3 1197.2,1079.4 1198.0,1090.6" fill="#8a8a8a" stroke="#1a1a1a" stroke-width="1.4" stroke-linejoin="round"/>

</svg>
</body></html>
